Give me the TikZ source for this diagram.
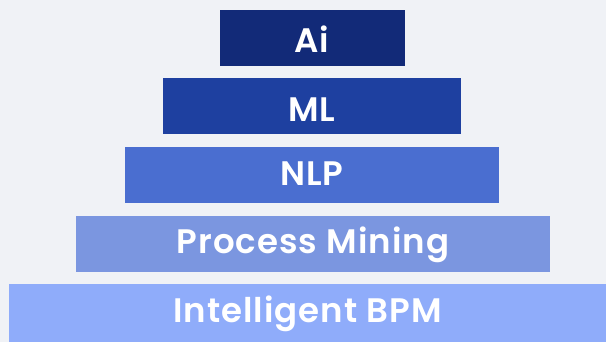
\documentclass[tikz,border=0pt]{standalone}
\usepackage{fontspec}
\setmainfont{Poppins}[BoldFont={Poppins SemiBold}, LetterSpace=3]
\usetikzlibrary{positioning}
\definecolor{bgcol}{HTML}{F0F2F6}
\definecolor{aicol}{HTML}{122A78}
\definecolor{mlcol}{HTML}{1E40A0}
\definecolor{nlpcol}{HTML}{4A6ED0}
\definecolor{pmcol}{HTML}{7B96E0}
\definecolor{bpmcol}{HTML}{8FACFA}

\begin{document}
\begin{tikzpicture}[x=1pt,y=-1pt,
  layer/.style={inner sep=0pt, text=white, minimum height=56pt,
    text height=24pt, text depth=0pt,
    font=\bfseries\fontsize{34}{34}\selectfont}]
% Hintergrund
\fill[bgcol] (0,0) rectangle (606,342);

% Pyramide von oben nach unten
\node[layer, fill=aicol, minimum width=185pt, text height=29pt] (ai) at (312,38) {Ai};
\node[layer, fill=mlcol, minimum width=298pt, text height=31pt] (ml) at (312,106.5) {ML};
\node[layer, fill=nlpcol, minimum width=373.5pt, text height=21pt] (nlp) at (311.75,175.5) {NLP};
\node[layer, fill=pmcol, minimum width=474pt, text height=19pt] (pm) at (313,244) {Process Mining};
\node[layer, fill=bpmcol, minimum width=597pt, minimum height=58pt, text height=19pt] (bpm) at (307.5,313) {Intelligent BPM};
\end{tikzpicture}
\end{document}
